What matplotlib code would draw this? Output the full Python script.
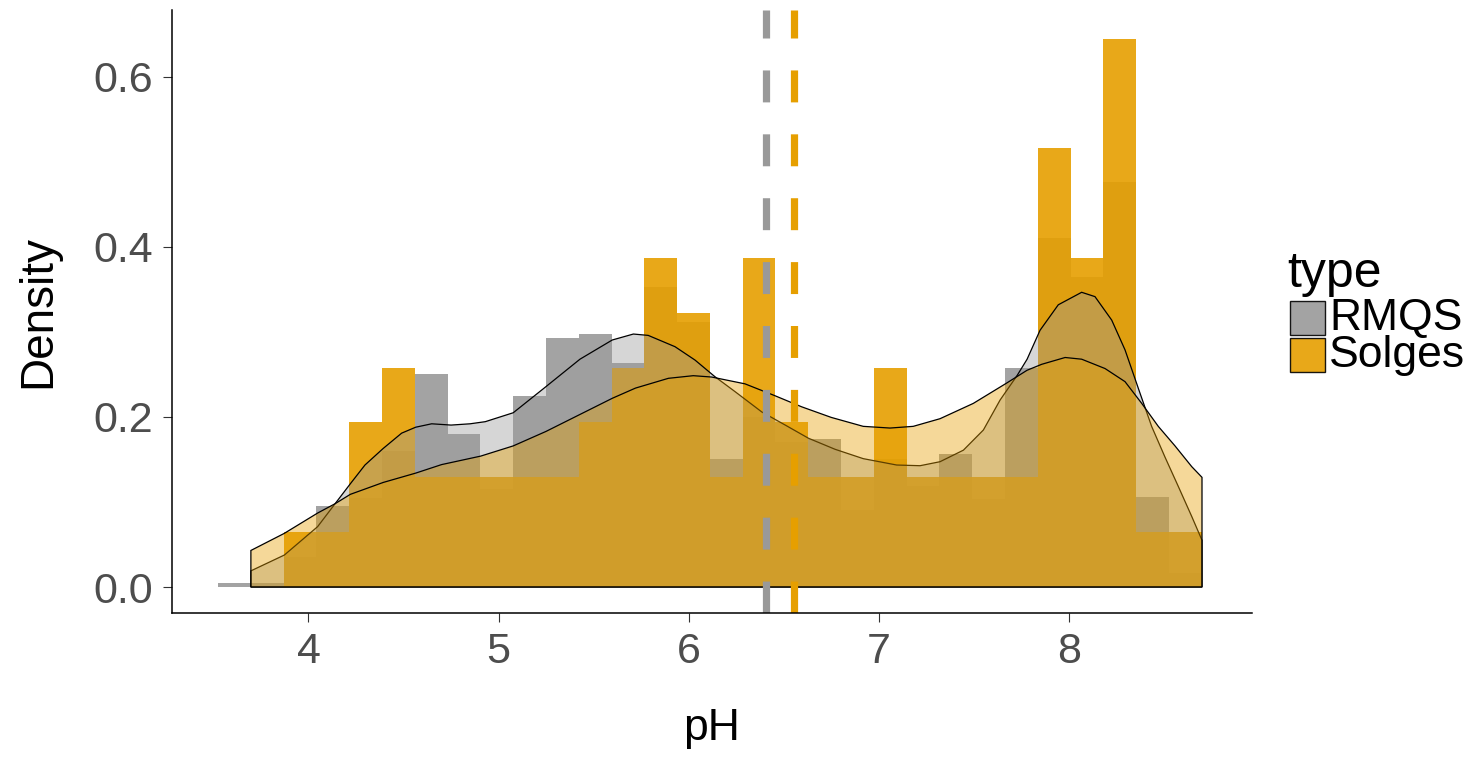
import numpy as np
import matplotlib
matplotlib.use("Agg")
import matplotlib.pyplot as plt
from matplotlib.patches import Rectangle

plt.rcParams['font.family'] = ['Liberation Sans', 'DejaVu Sans']
plt.rcParams['lines.scale_dashes'] = False

# histogram bins (30 bins, shared by both groups)
bin_start = 3.524
bin_width = 0.1725

# density heights per bin
rmqs_hist = [0.005, 0.005, 0.035, 0.095, 0.105, 0.16, 0.25, 0.18, 0.115, 0.225,
             0.293, 0.298, 0.263, 0.353, 0.312, 0.151, 0.20, 0.17, 0.174, 0.091,
             0.15, 0.119, 0.157, 0.103, 0.258, 0.41, 0.365, 0.476, 0.106, 0.016]
solges_hist = [0.0, 0.0, 0.0645, 0.0645, 0.194, 0.258, 0.129, 0.129, 0.129, 0.129,
               0.129, 0.194, 0.258, 0.387, 0.3225, 0.129, 0.387, 0.194, 0.129, 0.129,
               0.258, 0.129, 0.129, 0.129, 0.129, 0.516, 0.387, 0.645, 0.0645, 0.0645]

# kernel density curves
rmqs_x = [3.697, 3.873, 4.048, 4.14, 4.222, 4.297, 4.393, 4.49, 4.564, 4.648,
          4.75, 4.85, 4.93, 5.077, 5.249, 5.428, 5.598, 5.709, 5.787, 5.928,
          6.033, 6.138, 6.244, 6.384, 6.507, 6.63, 6.77, 6.918, 7.094, 7.217,
          7.322, 7.445, 7.55, 7.638, 7.728, 7.78, 7.848, 7.944, 8.067, 8.137,
          8.225, 8.295, 8.374, 8.435, 8.505, 8.576, 8.646, 8.70]
rmqs_y = [0.019, 0.0376, 0.071, 0.098, 0.122, 0.1435, 0.163, 0.181, 0.188, 0.192,
          0.1905, 0.192, 0.1945, 0.205, 0.2357, 0.268, 0.2906, 0.2976, 0.296, 0.2827,
          0.267, 0.2474, 0.2298, 0.206, 0.1906, 0.175, 0.162, 0.151, 0.1435, 0.1427,
          0.1474, 0.161, 0.1847, 0.22, 0.249, 0.268, 0.302, 0.332, 0.3467, 0.3416,
          0.314, 0.279, 0.228, 0.189, 0.153, 0.118, 0.083, 0.055]

solges_x = [3.697, 3.872, 4.048, 4.14, 4.22, 4.393, 4.564, 4.70, 4.906, 5.077,
            5.249, 5.428, 5.598, 5.72, 5.893, 6.024, 6.121, 6.296, 6.454, 6.594,
            6.75, 6.918, 7.059, 7.181, 7.322, 7.497, 7.673, 7.78, 7.857, 7.98,
            8.067, 8.19, 8.295, 8.383, 8.47, 8.558, 8.646, 8.70]
solges_y = [0.043, 0.063, 0.087, 0.098, 0.109, 0.123, 0.134, 0.144, 0.154, 0.166,
            0.183, 0.203, 0.222, 0.234, 0.2455, 0.2486, 0.247, 0.239, 0.225, 0.212,
            0.1995, 0.189, 0.187, 0.189, 0.198, 0.216, 0.240, 0.255, 0.262, 0.270,
            0.268, 0.257, 0.2416, 0.216, 0.189, 0.166, 0.1416, 0.129]

# group means
rmqs_mean = 6.405
solges_mean = 6.556

types = ["RMQS", "Solges"]
colors = {"RMQS": "#999999", "Solges": "#E69F00"}

fig = plt.figure(figsize=(14.7, 7.57), dpi=100)
ax = fig.add_axes([0.117, 0.1902, 0.7347, 0.7966])

edges = bin_start + bin_width * np.arange(len(rmqs_hist))

# histograms
ax.bar(edges, rmqs_hist, width=bin_width, align='edge', color=colors["RMQS"],
       alpha=0.9, linewidth=0)
ax.bar(edges, solges_hist, width=bin_width, align='edge', color=colors["Solges"],
       alpha=0.9, linewidth=0)

# densities
for name, xs, ys in [("RMQS", rmqs_x, rmqs_y), ("Solges", solges_x, solges_y)]:
    px = [xs[0]] + xs + [xs[-1]]
    py = [0] + ys + [0]
    rgba = matplotlib.colors.to_rgba(colors[name], 0.4)
    ax.fill(px, py, facecolor=rgba, edgecolor='black', linewidth=0.9)

# mean lines
ylo, yhi = -0.0306, 0.6788
for name, m in [("RMQS", rmqs_mean), ("Solges", solges_mean)]:
    ax.plot([m, m], [ylo, yhi], color=colors[name], linewidth=5.2,
            dashes=(23, 23), solid_capstyle='butt', dash_capstyle='butt')

ax.set_xlim(3.282, 8.963)
ax.set_ylim(ylo, yhi)
ax.set_xticks([4, 5, 6, 7, 8])
ax.set_yticks([0.0, 0.2, 0.4, 0.6])
ax.set_yticklabels(["0.0", "0.2", "0.4", "0.6"])

for s in ["top", "right"]:
    ax.spines[s].set_visible(False)
for s in ["left", "bottom"]:
    ax.spines[s].set_linewidth(1.1)
ax.tick_params(axis='both', length=6.5, width=0.8, color='#333333',
               labelcolor='#4D4D4D', labelsize=31, pad=7)

ax.set_xlabel("pH", fontsize=32, labelpad=26)
ax.set_ylabel("Density", fontsize=33, labelpad=24)

# legend
fig.text(1287 / 1470, 1 - 274 / 757, "type", fontsize=36, va='center', ha='left')
for i, name in enumerate(types):
    yc = 1 - (318 + 37 * i) / 757
    key = Rectangle((1290 / 1470, yc - 17 / 757), 35 / 1470, 34 / 757,
                    transform=fig.transFigure, facecolor=colors[name], alpha=0.9,
                    edgecolor='black', linewidth=1.0)
    fig.patches.append(key)
    fig.text(1329 / 1470, yc, name, fontsize=32, va='center', ha='left')

fig.savefig("out.png", dpi=100)
